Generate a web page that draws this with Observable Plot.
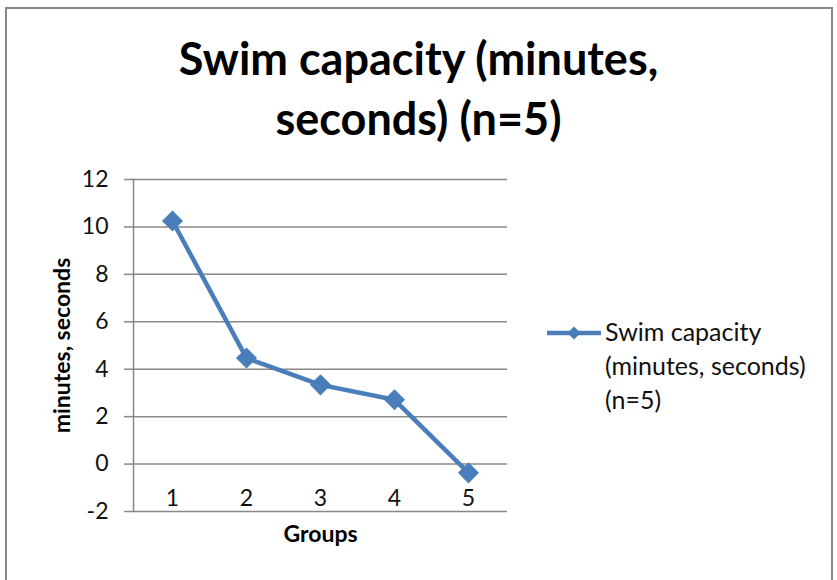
<!DOCTYPE html>
<html>
<head>
<meta charset="utf-8">
<script src="https://cdn.jsdelivr.net/npm/d3@7"></script>
<script src="https://cdn.jsdelivr.net/npm/@observablehq/plot@0.6"></script>
<style>
  html, body { margin: 0; padding: 0; background: #fff; }
  #wrap { position: relative; width: 837px; height: 580px; overflow: hidden; font-family: Lato, "Open Sans", sans-serif; }
  #border { position: absolute; left: 5px; top: 7px; width: 828px; height: 600px; border: 2px solid #898989; box-sizing: border-box; pointer-events: none; }
  #title { position: absolute; left: 0; top: 28px; width: 837px; text-align: center; font-weight: 700; font-size: 45px; line-height: 60px; color: #000; }
  #title span { display: block; }
  #chart { position: absolute; left: 0; top: 0; }
  #legend { position: absolute; left: 545px; top: 314px; display: flex; align-items: flex-start; font-size: 25px; line-height: 34px; color: #111; }
  #legend svg { margin-top: 8px; }
</style>
</head>
<body>
<div id="wrap">
  <div id="chart"></div>
  <div id="title"><span>Swim capacity (minutes,</span><span>seconds) (n=5)</span></div>
  <div id="legend"></div>
  <div id="border"></div>
</div>
<script>
const groups = [1, 2, 3, 4, 5];
const values = [10.25, 4.47, 3.34, 2.71, -0.37];
const yTicks = [-2, 0, 2, 4, 6, 8, 10, 12];
const seriesName = "Swim capacity (minutes, seconds) (n=5)";
const xTitle = "Groups";
const yTitle = "minutes, seconds";

const blue = "#4a7ebb";
const gridColor = "#888888";
const data = groups.map((g, i) => ({group: g, value: values[i]}));

const chart = Plot.plot({
  width: 837,
  height: 580,
  marginLeft: 133,
  marginRight: 330,
  marginTop: 179,
  marginBottom: 69,
  style: {fontFamily: "Lato, 'Open Sans', sans-serif", color: "#000", background: "transparent"},
  x: {type: "band", domain: groups, padding: 0},
  y: {domain: [-2, 12]},
  marks: [
    Plot.gridY(yTicks, {stroke: gridColor, strokeOpacity: 1, strokeWidth: 1.5}),
    Plot.frame({anchor: "left", stroke: gridColor, strokeWidth: 1.5}),
    Plot.axisY(yTicks, {tickSize: 9, tickPadding: 16, stroke: gridColor, strokeWidth: 1.5, fontSize: 23, label: null, fill: "#111", tickFormat: d => String(d)}),
    Plot.axisX(groups, {tickSize: 0, tickPadding: 0, dy: -22, fontSize: 23, label: null, fill: "#111", tickFormat: d => String(d)}),
    Plot.text([yTitle], {frameAnchor: "left", dx: -71, rotate: -90, textAnchor: "middle", fontSize: 23, fontWeight: "bold", fill: "#000"}),
    Plot.text([xTitle], {frameAnchor: "bottom", dy: 23, lineAnchor: "middle", fontSize: 23, fontWeight: "bold", fill: "#000"}),
    Plot.line(data, {x: "group", y: "value", stroke: blue, strokeWidth: 4.5}),
    Plot.dot(data, {x: "group", y: "value", symbol: "diamond2", r: 9.5, fill: blue, stroke: null})
  ]
});
document.getElementById("chart").appendChild(chart);

// legend
const leg = document.getElementById("legend");
const sw = d3.create("svg").attr("width", 60).attr("height", 22);
sw.append("line").attr("x1", 2).attr("x2", 56).attr("y1", 11).attr("y2", 11).attr("stroke", blue).attr("stroke-width", 4.5);
sw.append("path").attr("d", d3.symbol(d3.symbolDiamond2, 110)()).attr("transform", "translate(29,11)").attr("fill", blue);
leg.appendChild(sw.node());
const txt = document.createElement("div");
txt.innerHTML = "Swim capacity<br>(minutes, seconds)<br>(n=5)";
leg.appendChild(txt);
</script>
</body>
</html>
